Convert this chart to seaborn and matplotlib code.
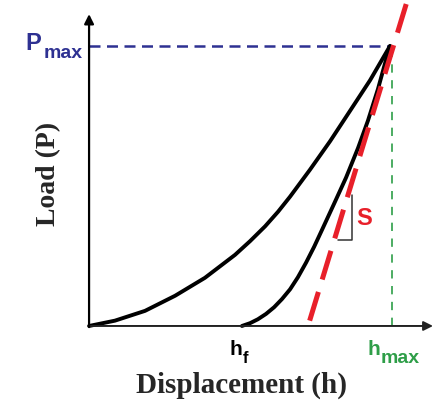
import matplotlib
matplotlib.use("Agg")
import matplotlib.pyplot as plt
import seaborn as sns

# ---- data (normalised: h / h_max, P / P_max) ----
load_h = [0.0, 0.086, 0.186, 0.286, 0.385, 0.485, 0.535, 0.585, 0.628, 0.668,
          0.734, 0.801, 0.867, 0.934, 1.0]
load_P = [0.0, 0.019, 0.054, 0.108, 0.172, 0.254, 0.303, 0.356, 0.408, 0.462,
          0.558, 0.660, 0.768, 0.878, 1.0]

unload_h = [0.508, 0.535, 0.561, 0.588, 0.615, 0.641, 0.668, 0.694, 0.721, 0.748,
            0.774, 0.814, 0.854, 0.894, 0.927, 0.960, 0.993, 1.0]
unload_P = [0.0, 0.010, 0.024, 0.043, 0.067, 0.096, 0.131, 0.174, 0.226, 0.283,
            0.343, 0.436, 0.530, 0.636, 0.734, 0.846, 0.975, 1.0]

# tangent (contact stiffness S) drawn from its top end downwards
tangent_h = [1.054, 0.722]
tangent_P = [1.150, -0.020]

h_f = 0.508
h_max = 1.0
P_max = 1.0

tri_h = [0.874, 0.874, 0.827]
tri_P = [0.468, 0.307, 0.307]

x_label = "Displacement (h)"
y_label = "Load (P)"

# ---- figure ----
sns.set_theme(style="white")
plt.rcParams["font.family"] = ["Liberation Sans", "DejaVu Sans"]

fig = plt.figure(figsize=(4.33, 4.02), dpi=100)
ax = fig.add_axes([0, 0, 1, 1])
ax.set_xlim(-0.296, 1.143)
ax.set_ylim(-0.268, 1.168)
ax.axis("off")

navy = "#2E3192"
green = "#2E9E48"
red = "#E8202A"

common = dict(ax=ax, sort=False, estimator=None, legend=False)

# reference lines
sns.lineplot(x=[0, h_max], y=[P_max, P_max], color=navy, lw=1.8,
             linestyle=(0, (4.4, 2.6)), **common)
sns.lineplot(x=[h_max + 0.006, h_max + 0.006], y=[0, 0.975 * P_max], color=green, lw=1.2,
             linestyle=(0, (5.0, 4.5)), **common)

# axes with arrows
ax.annotate("", xy=(1.143, 0), xytext=(0, 0),
            arrowprops=dict(arrowstyle="-|>", lw=1.4, color="#222222",
                            mutation_scale=14, shrinkA=0, shrinkB=0))
ax.annotate("", xy=(0, 1.114), xytext=(0, -0.004),
            arrowprops=dict(arrowstyle="-|>", lw=1.6, color="black",
                            mutation_scale=14, shrinkA=0, shrinkB=0))

# curves
sns.lineplot(x=load_h, y=load_P, color="black", lw=2.8, **common)
sns.lineplot(x=unload_h, y=unload_P, color="black", lw=2.8, **common)
sns.lineplot(x=tangent_h, y=tangent_P, color=red, lw=3.6,
             linestyle=(0, (6, 2.6)), **common)
sns.lineplot(x=tri_h, y=tri_P, color="#333333", lw=1.1, **common)

# labels
ax.text(-0.213, 0.989, "P", color=navy, fontsize=17, fontweight="bold",
        ha="left", va="baseline")
ax.text(-0.152, 0.961, "max", color=navy, fontsize=14, fontweight="bold",
        ha="left", va="baseline")
ax.text(0.924, -0.100, "h", color=green, fontsize=15, fontweight="bold",
        ha="left", va="baseline")
ax.text(0.968, -0.129, "max", color=green, fontsize=14, fontweight="bold",
        ha="left", va="baseline")
ax.text(0.468, -0.100, "h", color="black", fontsize=15, fontweight="bold",
        ha="left", va="baseline")
ax.text(0.512, -0.129, "f", color="black", fontsize=12, fontweight="bold",
        ha="left", va="baseline")
ax.text(0.887, 0.364, "S", color=red, fontsize=17, fontweight="bold",
        ha="left", va="baseline")

ax.text(0.505, -0.236, x_label, fontsize=21, fontweight="bold",
        family=["Liberation Serif", "DejaVu Serif"], ha="center", va="baseline")
ax.text(-0.133, 0.546, y_label, fontsize=20, fontweight="bold", rotation=90,
        family=["Liberation Serif", "DejaVu Serif"], ha="center", va="center")

fig.savefig("out.png", dpi=100)
